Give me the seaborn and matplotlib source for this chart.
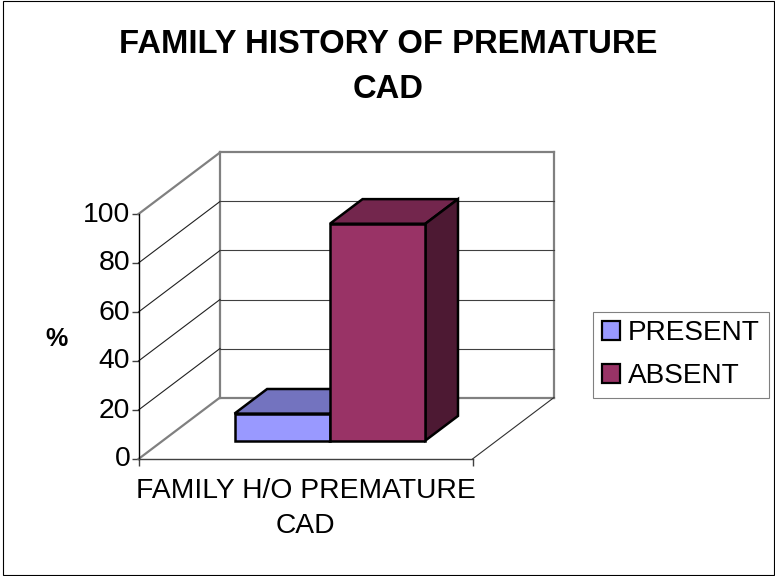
import pandas as pd
import matplotlib.pyplot as plt
from matplotlib.patches import Polygon, Rectangle
from matplotlib.transforms import ScaledTranslation
import seaborn as sns

# data
groups = ['FAMILY H/O PREMATURE\nCAD']
status = ['PRESENT', 'ABSENT']
values = [11, 88.5]
y_ticks = [0, 20, 40, 60, 80, 100]

front_colors = ['#9999FF', '#993366']
top_colors = ['#7373BF', '#73264D']
side_colors = ['#5C5C99', '#4D1933']

W, H = 775, 576
# front plane of the chart in pixels
left, right, bottom, top = 138.5, 472.5, 459, 214
# how far the back wall is pushed, in data units
wall_dx = 81.5 / (right - left)
wall_dy = 61.5 / (bottom - top) * 100
# bars sit in the middle of the floor
d_front, d_back = 0.3, 0.7

sns.set_theme(style='white')
plt.rcParams['font.family'] = ['Liberation Sans', 'DejaVu Sans']

df = pd.DataFrame({'group': groups * 2, 'status': status, 'pct': values})

fig = plt.figure(figsize=(W / 100, H / 100), dpi=100)
ax = fig.add_axes([left / W, 1 - bottom / H, (right - left) / W, (bottom - top) / H])
ax.patch.set_alpha(0)
sns.barplot(data=df, x='group', y='pct', hue='status', hue_order=status,
            palette=front_colors, saturation=1, width=4 / 7, gap=0,
            edgecolor='black', linewidth=1.8, ax=ax)
ax.set_xlim(-0.5, 0.5)
ax.set_ylim(0, 100)


def proj(x, v, d):
    return (x + wall_dx * d, v + wall_dy * d)


def wall_line(p, q, color='#808080', lw=1.6, z=1):
    ax.plot([p[0], q[0]], [p[1], q[1]], color=color, lw=lw, zorder=z, clip_on=False,
            solid_capstyle='projecting')


# back wall, floor and gridlines
wall_line(proj(-0.5, 100, 0), proj(-0.5, 100, 1))
wall_line(proj(-0.5, 100, 1), proj(0.5, 100, 1))
wall_line(proj(-0.5, 100, 1), proj(-0.5, 0, 1))
wall_line(proj(0.5, 100, 1), proj(0.5, 0, 1))
wall_line(proj(-0.5, 0, 1), proj(0.5, 0, 1))
wall_line(proj(-0.5, 0, 0), proj(-0.5, 0, 1))
wall_line(proj(0.5, 0, 0), proj(0.5, 0, 1), color='#303030', lw=0.8)
for t in y_ticks[1:-1]:
    wall_line(proj(-0.5, t, 0), proj(-0.5, t, 1), color='#202020', lw=0.8)
    wall_line(proj(-0.5, t, 1), proj(0.5, t, 1), color='#404040', lw=0.8)

# turn the flat seaborn bars into boxes
for i, cont in enumerate(ax.containers):
    for bar in cont:
        x0 = bar.get_x()
        x1 = x0 + bar.get_width()
        h = bar.get_height()
        base = 3 * i + 2
        top_face = [proj(x0, h, d_front), proj(x0, h, d_back), proj(x1, h, d_back), proj(x1, h, d_front)]
        side_face = [proj(x1, 0, d_front), proj(x1, 0, d_back), proj(x1, h, d_back), proj(x1, h, d_front)]
        for pts, c in ((top_face, top_colors[i]), (side_face, side_colors[i])):
            ax.add_patch(Polygon(pts, closed=True, facecolor=c, edgecolor='black', lw=1.8,
                                 joinstyle='miter', zorder=base, clip_on=False))
        bar.set_xy(proj(x0, 0, d_front))
        bar.set_zorder(base + 1)
        bar.set_clip_on(False)

# axes
sns.despine(ax=ax, top=True, right=True)
ax.spines['left'].set_color('black')
ax.spines['bottom'].set_color('#404040')
ax.spines['left'].set_linewidth(1.0)
ax.spines['bottom'].set_linewidth(1.0)
ax.set_yticks(y_ticks)
ax.tick_params(axis='y', left=True, length=5, width=1, color='#404040', labelsize=20.4, pad=1,
               labelcolor='black')
# the tick numbers sit a little above their ticks in the reference
for lab in ax.get_yticklabels():
    lab.set_transform(lab.get_transform() + ScaledTranslation(0, 2.5 / 100, fig.dpi_scale_trans))
ax.set_xticks([-0.5, 0.5], minor=True)
ax.tick_params(axis='x', which='minor', bottom=True, length=5, width=1, color='#404040')
ax.tick_params(axis='x', which='major', bottom=False, labelsize=20.3, pad=7.8, labelcolor='black')
for lab in ax.get_xticklabels():
    lab.set_linespacing(1.42)
ax.set_xlabel('')
ax.set_ylabel('%', rotation=0, fontsize=18, fontweight='bold', color='black')
ax.yaxis.set_label_coords((56 - left) / (right - left), (bottom - 339) / (bottom - top))
ax.yaxis.label.set_verticalalignment('center')

# legend
handles = [Rectangle((0, 0), 1, 1, facecolor=c, edgecolor='black', lw=1.6) for c in front_colors]
leg = ax.legend(handles, status, loc='upper left',
                bbox_to_anchor=(593 / W, 1 - 311.5 / H), bbox_transform=fig.transFigure,
                frameon=True, fancybox=False, framealpha=1, edgecolor='#808080',
                fontsize=20.2, handlelength=0.64, handleheight=0.64, handletextpad=0.28,
                labelspacing=0.6, borderpad=0.32, borderaxespad=0)
leg.get_frame().set_linewidth(0.8)
for t in leg.get_texts():
    t.set_color('black')

fig.text(388.5 / W, 1 - 67 / H, 'FAMILY HISTORY OF PREMATURE\nCAD', ha='center', va='center',
         fontsize=23.6, fontweight='bold', color='black', linespacing=1.57)

# outer chart border
fig.add_artist(Rectangle((2.5 / W, 1 - 574.5 / H), 771 / W, 574 / H, transform=fig.transFigure,
                         facecolor='none', edgecolor='black', lw=0.8))

fig.savefig('out.png', dpi=100)
